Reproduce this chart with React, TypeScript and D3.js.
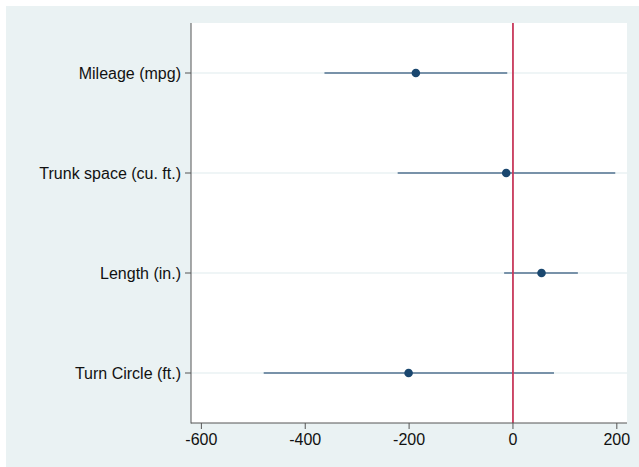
import React from "react";
import * as d3 from "d3";

const categories = ["Mileage (mpg)", "Trunk space (cu. ft.)", "Length (in.)", "Turn Circle (ft.)"];
const estimates = [-187, -13, 55, -201];
const lower = [-363, -222, -17, -480];
const upper = [-11, 197, 125, 79];
const xTicks = [-600, -400, -200, 0, 200];

const W = 639;
const H = 467;
const M = { left: 191, top: 23, right: 627, bottom: 423 };

export default function App() {
  const x = d3.scaleLinear().domain([-620, 219.6]).range([M.left, M.right]);
  const y = d3.scaleBand().domain(categories).range([M.top, M.bottom]);
  const yc = (c: string) => (y(c) as number) + y.bandwidth() / 2;
  const font = "'Liberation Sans', Arial, Helvetica, sans-serif";
  return (
    <svg width={W} height={H} style={{ position: "absolute", left: 0, top: 0 }} fontFamily={font}>
      <rect x={0} y={0} width={W} height={H} fill="#ffffff" />
      <rect x={6} y={6} width={W - 6} height={H - 6} fill="#eaf2f3" />
      <rect x={M.left} y={M.top} width={M.right - M.left} height={M.bottom - M.top} fill="#ffffff" />
      {categories.map((c) => (
        <line key={"g" + c} x1={M.left} x2={M.right} y1={yc(c)} y2={yc(c)} stroke="#eaf2f3" strokeWidth={1.5} />
      ))}
      {categories.map((c, i) => (
        <line key={"ci" + c} x1={x(lower[i])} x2={x(upper[i])} y1={yc(c)} y2={yc(c)} stroke="#51718f" strokeWidth={1.6} />
      ))}
      <line x1={x(0)} x2={x(0)} y1={M.top} y2={M.bottom} stroke="#c8385a" strokeWidth={1.8} />
      {categories.map((c, i) => (
        <circle key={"p" + c} cx={x(estimates[i])} cy={yc(c)} r={4.3} fill="#1a476f" />
      ))}
      <line x1={M.left} x2={M.left} y1={M.top} y2={M.bottom + 0.5} stroke="#555555" strokeWidth={1} />
      <line x1={M.left} x2={M.right} y1={M.bottom} y2={M.bottom} stroke="#555555" strokeWidth={1} />
      {categories.map((c) => (
        <g key={"yt" + c}>
          <line x1={M.left - 6} x2={M.left} y1={yc(c)} y2={yc(c)} stroke="#555555" strokeWidth={1} />
          <text x={M.left - 10} y={yc(c)} dy="0.35em" textAnchor="end" fontSize={16} fill="#111">
            {c}
          </text>
        </g>
      ))}
      {xTicks.map((t) => (
        <g key={"xt" + t}>
          <line x1={x(t)} x2={x(t)} y1={M.bottom} y2={M.bottom + 6} stroke="#555555" strokeWidth={1} />
          <text x={x(t)} y={M.bottom + 22} textAnchor="middle" fontSize={16} fill="#111">
            {t}
          </text>
        </g>
      ))}
    </svg>
  );
}
